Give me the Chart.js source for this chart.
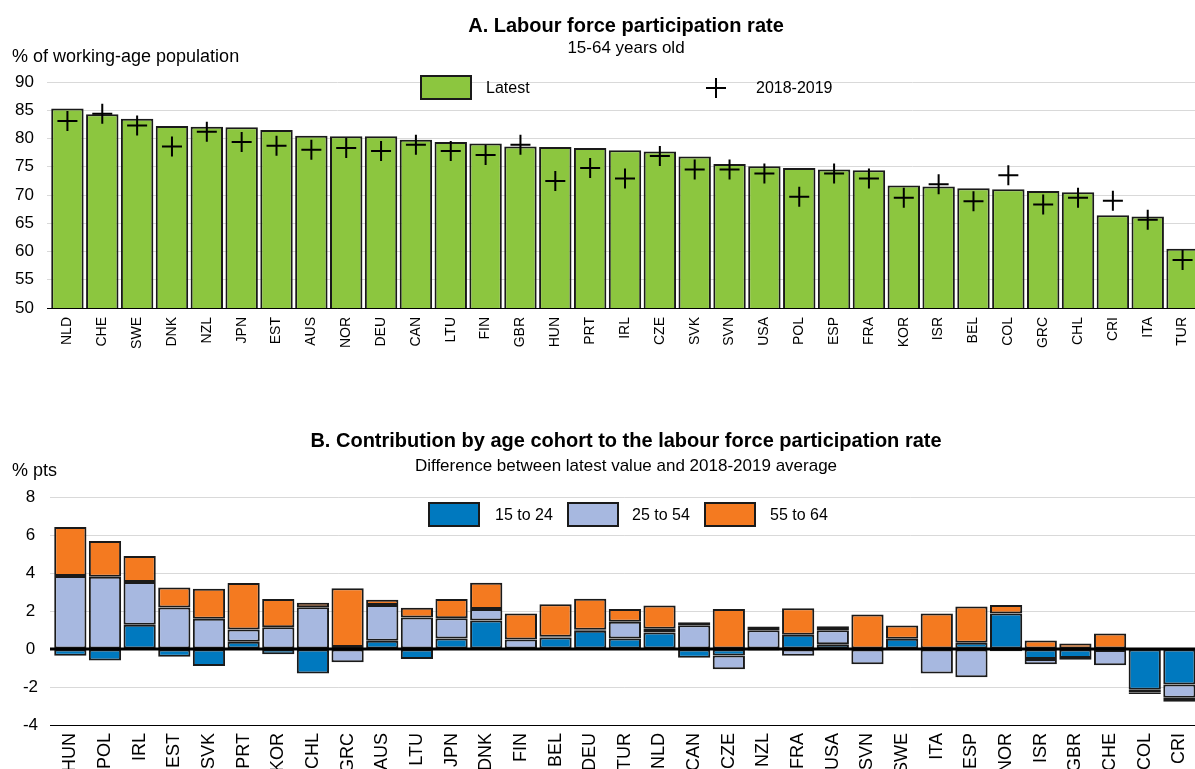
<!DOCTYPE html>
<html>
<head>
<meta charset="utf-8">
<script src="https://cdn.jsdelivr.net/npm/chart.js@4.4.0/dist/chart.umd.min.js"></script>
<style>
    body { margin: 0; width: 1195px; height: 769px; overflow: hidden; background: #fff; position: relative;
           font-family: "Liberation Sans", Arial, sans-serif; color: #000; }
    .t { position: absolute; white-space: nowrap; }
    .c { transform: translateX(-50%); }
    .title { font-weight: bold; font-size: 20px; line-height: 20px; }
    .sub { font-size: 17px; line-height: 17px; }
    .unit { font-size: 18px; line-height: 18px; }
    .lg { font-size: 16px; line-height: 16px; }
    .box { position: absolute; width: 48px; height: 21px; border: 2px solid #1a1a1a; }
    .cross { position: absolute; width: 20px; height: 20px; }
    .cross:before, .cross:after { content: ''; position: absolute; background: #000; }
    .cross:before { left: 0; top: 9px; width: 20px; height: 2px; }
    .cross:after { left: 9px; top: 0; width: 2px; height: 20px; }
    canvas { position: absolute; left: 0; }
</style>
</head>
<body>

<canvas id="chartA" width="1212" height="370" style="top:0"></canvas>
<canvas id="chartB" width="1209" height="400" style="top:400px"></canvas>

<div class="t c title" style="left:626px;top:15px">A. Labour force participation rate</div>
<div class="t c sub" style="left:626px;top:39px">15-64 years old</div>
<div class="t unit" style="left:12px;top:47px">% of working-age population</div>

<div class="box" style="left:420px;top:75px;background:#8cc63f"></div>
<div class="t lg" style="left:486px;top:80px">Latest</div>
<div class="cross" style="left:706px;top:78px"></div>
<div class="t lg" style="left:756px;top:80px">2018-2019</div>

<div class="t c title" style="left:626px;top:430px">B. Contribution by age cohort to the labour force participation rate</div>
<div class="t c sub" style="left:626px;top:457px">Difference between latest value and 2018-2019 average</div>
<div class="t unit" style="left:12px;top:461px">% pts</div>

<div class="box" style="left:428px;top:502px;background:#0079bf"></div>
<div class="t lg" style="left:495px;top:507px">15 to 24</div>
<div class="box" style="left:567px;top:502px;background:#a7b8e0"></div>
<div class="t lg" style="left:632px;top:507px">25 to 54</div>
<div class="box" style="left:704px;top:502px;background:#f47a20"></div>
<div class="t lg" style="left:770px;top:507px">55 to 64</div>

<script>
// Panel A - participation rate, 15-64
const countriesA = ['NLD', 'CHE', 'SWE', 'DNK', 'NZL', 'JPN', 'EST', 'AUS', 'NOR', 'DEU', 'CAN', 'LTU', 'FIN',
    'GBR', 'HUN', 'PRT', 'IRL', 'CZE', 'SVK', 'SVN', 'USA', 'POL', 'ESP', 'FRA', 'KOR', 'ISR', 'BEL', 'COL',
    'GRC', 'CHL', 'CRI', 'ITA', 'TUR'];
const latest = [85.3, 84.3, 83.5, 82.2, 82.1, 82.0, 81.5, 80.5, 80.4, 80.4, 79.8, 79.4, 79.1, 78.6, 78.5, 78.3,
    77.9, 77.7, 76.8, 75.5, 75.1, 74.8, 74.5, 74.4, 71.7, 71.5, 71.2, 71.0, 70.7, 70.5, 66.4, 66.2, 60.5];
const avg2018_2019 = [83.1, 84.4, 82.3, 78.6, 81.2, 79.4, 78.7, 78.0, 78.3, 77.8, 78.9, 77.8, 77.1, 78.9, 72.5,
    74.8, 72.9, 76.9, 74.5, 74.5, 73.8, 69.7, 73.8, 72.9, 69.5, 71.9, 68.9, 73.5, 68.3, 69.5, 69.0, 65.6, 58.5];
const ticksA = [50, 55, 60, 65, 70, 75, 80, 85, 90];

// Panel B - contribution by age cohort (% pts)
const countriesB = ['HUN', 'POL', 'IRL', 'EST', 'SVK', 'PRT', 'KOR', 'CHL', 'GRC', 'AUS', 'LTU', 'JPN', 'DNK',
    'FIN', 'BEL', 'DEU', 'TUR', 'NLD', 'CAN', 'CZE', 'NZL', 'FRA', 'USA', 'SVN', 'SWE', 'ITA', 'ESP', 'NOR',
    'ISR', 'GBR', 'CHE', 'COL', 'CRI'];
const age15to24 = [-0.35, -0.61, 1.27, -0.41, -0.9, 0.38, -0.27, -1.29, 0.1, 0.43, -0.52, 0.55, 1.5, 0, 0.6,
    0.96, 0.55, 0.87, -0.46, -0.34, -0.08, 0.75, 0.25, 0, 0.54, 0, 0.33, 1.87, -0.52, -0.48, -0.05, -2.15, -1.87];
const age25to54 = [3.84, 3.8, 2.25, 2.19, 1.59, 0.65, 1.15, 2.2, -0.7, 1.88, 1.66, 1.07, 0.6, 0.5, 0.05, 0.05,
    0.88, 0.19, 1.25, -0.72, 0.99, -0.36, 0.74, -0.8, 0, -1.29, -1.49, -0.12, -0.28, -0.09, -0.8, -0.12, -0.69];
const age55to64 = [2.58, 1.88, 1.37, 1.05, 1.58, 2.44, 1.48, 0.23, 3.1, 0.28, 0.51, 1.01, 1.39, 1.37, 1.71, 1.64,
    0.67, 1.23, 0.16, 2.1, 0.2, 1.4, 0.21, 1.82, 0.7, 1.87, 1.91, 0.44, 0.45, 0.29, 0.82, -0.1, -0.21];
const ticksB = [-4, -2, 0, 2, 4, 6, 8];

const FONT = '"Liberation Sans", Arial, sans-serif';
const GRID = '#d9d9d9';

// thick zero line on top of the bars
const zeroLine = {
    id: 'zeroLine',
    afterDatasetsDraw(chart) {
        const y = chart.scales.y.getPixelForValue(0);
        const ctx = chart.ctx;
        ctx.save();
        ctx.strokeStyle = '#000';
        ctx.lineWidth = 3;
        ctx.beginPath();
        ctx.moveTo(chart.chartArea.left - 3, y);
        ctx.lineTo(chart.chartArea.right, y);
        ctx.stroke();
        ctx.restore();
    }
};

new Chart(document.getElementById('chartA'), {
    type: 'bar',
    data: {
        labels: countriesA,
        datasets: [
            {
                type: 'line',
                label: '2018-2019',
                data: avg2018_2019,
                showLine: false,
                pointStyle: 'cross',
                pointRadius: 10,
                pointBorderWidth: 2,
                borderColor: '#000',
                backgroundColor: '#000',
                order: 0
            },
            {
                label: 'Latest',
                data: latest,
                backgroundColor: '#8cc63f',
                borderColor: '#1a1a1a',
                borderWidth: 2,
                borderSkipped: false,
                categoryPercentage: 1,
                barPercentage: 0.93,
                order: 1
            }
        ]
    },
    options: {
        responsive: false,
        animation: false,
        devicePixelRatio: 1,
        layout: { padding: { top: 82, left: 0, right: 0, bottom: 0 } },
        plugins: { legend: { display: false }, tooltip: { enabled: false } },
        scales: {
            x: {
                grid: { display: false, drawTicks: false },
                border: { display: true, color: '#000', width: 1 },
                ticks: { autoSkip: false, minRotation: 90, maxRotation: 90, padding: 9,
                         color: '#000', font: { family: FONT, size: 14 } },
                afterFit: s => { s.height = 62; }
            },
            y: {
                min: 50, max: 90,
                afterBuildTicks: s => { s.ticks = ticksA.map(v => ({ value: v })); },
                grid: { color: c => c.tick.value === 50 ? '#000' : GRID, lineWidth: 1, tickLength: 3 },
                border: { display: false },
                ticks: { padding: 13, color: '#000', font: { family: FONT, size: 17 } },
                afterFit: s => { s.width = 50; }
            }
        }
    }
});

new Chart(document.getElementById('chartB'), {
    type: 'bar',
    data: {
        labels: countriesB,
        datasets: [
            { label: '15 to 24', data: age15to24, backgroundColor: '#0079bf' },
            { label: '25 to 54', data: age25to54, backgroundColor: '#a7b8e0' },
            { label: '55 to 64', data: age55to64, backgroundColor: '#f47a20' }
        ].map(d => Object.assign(d, {
            borderColor: '#1a1a1a', borderWidth: 2, borderSkipped: false,
            categoryPercentage: 1, barPercentage: 0.93
        }))
    },
    options: {
        responsive: false,
        animation: false,
        devicePixelRatio: 1,
        layout: { padding: { top: 97, left: 0, right: 0, bottom: 0 } },
        plugins: { legend: { display: false }, tooltip: { enabled: false } },
        scales: {
            x: {
                stacked: true,
                grid: { display: false, drawTicks: false },
                border: { display: true, color: '#000', width: 1 },
                ticks: { autoSkip: false, minRotation: 90, maxRotation: 90, padding: 8,
                         color: '#000', font: { family: FONT, size: 18 } },
                afterFit: s => { s.height = 75; }
            },
            y: {
                stacked: true,
                min: -4, max: 8,
                afterBuildTicks: s => { s.ticks = ticksB.map(v => ({ value: v })); },
                grid: { color: c => c.tick.value === -4 ? '#000' : GRID, lineWidth: 1, tickLength: 3 },
                border: { display: false },
                ticks: { padding: 12, crossAlign: 'center', color: '#000', font: { family: FONT, size: 17 } },
                afterFit: s => { s.width = 53; }
            }
        }
    },
    plugins: [zeroLine]
});
</script>
</body>
</html>
